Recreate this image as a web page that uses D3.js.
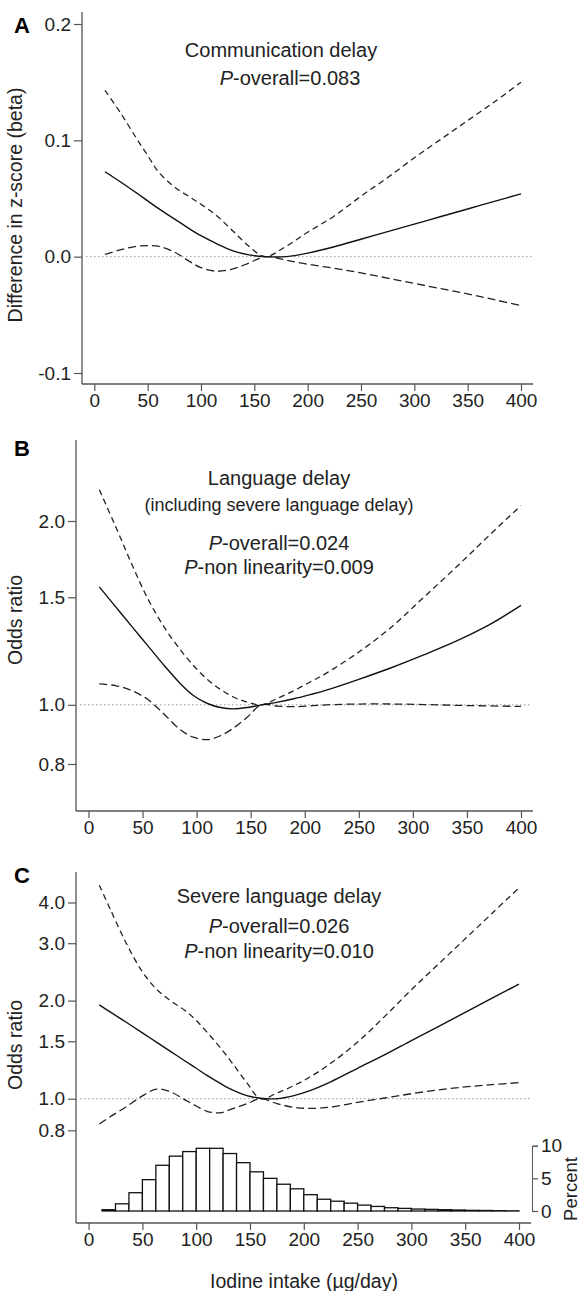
<!DOCTYPE html>
<html>
<head>
<meta charset="utf-8">
<script src="https://cdn.jsdelivr.net/npm/d3@7/dist/d3.min.js"></script>
<style>
  body { margin: 0; background: #fff; }
  svg { font-family: "Liberation Sans", Arial, sans-serif; }
  .tick text { font-size: 19px; fill: #222; }
  .tick line { stroke: #555; stroke-width: 1.2; }
</style>
</head>
<body>
<div id="chart"></div>
<script>
const width = 588;
const height = 1291;

const xTicks = [0, 50, 100, 150, 200, 250, 300, 350, 400];

// Panel A: communication delay (beta)
const commX    = [10, 25, 40, 50, 60, 75, 90, 100, 115, 130, 145, 160, 180, 200, 225, 250, 275, 300, 325, 350, 375, 400];
const commFit  = [0.073, 0.064, 0.0545, 0.048, 0.0415, 0.0325, 0.0235, 0.018, 0.011, 0.005, 0.0015, 0, 0, 0.003, 0.0085, 0.015, 0.0215, 0.028, 0.0345, 0.041, 0.0475, 0.054];
const commHigh = [0.143, 0.123, 0.101, 0.087, 0.073, 0.060, 0.051, 0.045, 0.035, 0.022, 0.009, 0, 0.009, 0.021, 0.035, 0.052, 0.068, 0.085, 0.101, 0.117, 0.133, 0.150];
const commLow  = [0.002, 0.006, 0.009, 0.0095, 0.009, 0.004, -0.0045, -0.0095, -0.0125, -0.0105, -0.0055, 0, -0.003, -0.0065, -0.010, -0.014, -0.0185, -0.023, -0.0275, -0.032, -0.037, -0.042];
const commTicks = [-0.1, 0.0, 0.1, 0.2];

// Panel B: language delay (odds ratio)
const langX    = [10, 25, 40, 55, 70, 85, 97, 110, 122, 134, 147, 160, 175, 190, 205, 220, 250, 280, 310, 340, 370, 400];
const langFit  = [1.56, 1.448, 1.344, 1.249, 1.16, 1.083, 1.036, 1.005, 0.99, 0.985, 0.99, 1.0, 1.01, 1.023, 1.039, 1.057, 1.101, 1.150, 1.207, 1.271, 1.35, 1.455];
const langHigh = [2.25, 1.96, 1.70, 1.49, 1.34, 1.23, 1.16, 1.10, 1.06, 1.03, 1.01, 1.0, 1.025, 1.055, 1.09, 1.127, 1.22, 1.34, 1.50, 1.68, 1.89, 2.12];
const langLow  = [1.082, 1.075, 1.055, 1.02, 0.965, 0.91, 0.885, 0.877, 0.89, 0.916, 0.955, 1.0, 0.995, 0.993, 0.996, 1.0, 1.003, 1.003, 1.001, 0.998, 0.996, 0.994];
const langTicks = [0.8, 1.0, 1.5, 2.0];

// Panel C: severe language delay (odds ratio)
const sevX    = [10, 20, 35, 50, 63, 76, 90, 100, 110, 122, 134, 147, 160, 175, 190, 205, 225, 250, 275, 300, 325, 350, 375, 400];
const sevFit  = [1.94, 1.846, 1.716, 1.592, 1.492, 1.398, 1.303, 1.24, 1.179, 1.116, 1.062, 1.022, 1.003, 1.0, 1.02, 1.057, 1.127, 1.24, 1.363, 1.507, 1.665, 1.84, 2.034, 2.248];
const sevHigh = [4.52, 3.82, 3.0, 2.45, 2.17, 2.0, 1.86, 1.74, 1.6, 1.44, 1.28, 1.12, 1.0, 1.041, 1.094, 1.162, 1.284, 1.492, 1.786, 2.16, 2.586, 3.096, 3.706, 4.437];
const sevLow  = [0.836, 0.88, 0.945, 1.02, 1.07, 1.05, 0.99, 0.95, 0.915, 0.905, 0.932, 0.965, 1.0, 0.966, 0.942, 0.934, 0.942, 0.975, 1.005, 1.036, 1.064, 1.087, 1.105, 1.12];
const sevTicks = [0.8, 1.0, 1.5, 2.0, 3.0, 4.0];

// Histogram of iodine intake, bins of 12.5 from 0 to 400 (percent)
const binWidth = 12.5;
const histPercent = [0, 0.2, 1.1, 2.8, 4.8, 7.0, 8.4, 9.1, 9.6, 9.6, 8.8, 7.4, 6.0, 5.0, 4.1, 3.4,
                     2.5, 1.8, 1.5, 1.2, 0.9, 0.7, 0.5, 0.4, 0.3, 0.25, 0.2, 0.15, 0.1, 0.08, 0.05, 0.03];
const histTicks = [0, 5, 10];

const svg = d3.select('#chart')
  .append('svg')
  .attr('width', width)
  .attr('height', height);

function toPoints(xs, ys) {
  return xs.map((x, i) => [x, ys[i]]);
}

// tick labels use a plain hyphen for negatives, as in the original
const oneDecimal = d => d.toFixed(1);

function drawPanel(p) {
  const g = svg.append('g');
  const xscale = d3.scaleLinear().domain([0, 400]).range(p.xRange);
  const yscale = p.yScale;

  // axis lines, drawn past the tick range like the original
  g.append('line')
    .attr('x1', p.axisX).attr('x2', p.axisX)
    .attr('y1', p.axisTop).attr('y2', p.axisY)
    .attr('stroke', '#555').attr('stroke-width', 1.3);
  g.append('line')
    .attr('x1', p.axisX).attr('x2', p.axisRight)
    .attr('y1', p.axisY).attr('y2', p.axisY)
    .attr('stroke', '#555').attr('stroke-width', 1.3);

  // x axis
  const xaxis = d3.axisBottom(xscale).tickValues(xTicks).tickSize(7).tickPadding(3).tickSizeOuter(0);
  g.append('g')
    .attr('transform', 'translate(0,' + p.axisY + ')')
    .call(xaxis)
    .call(a => a.select('.domain').remove());

  // y axis
  const yaxis = d3.axisLeft(yscale).tickValues(p.yTicks).tickFormat(oneDecimal).tickSize(8).tickPadding(3);
  g.append('g')
    .attr('transform', 'translate(' + p.axisX + ',0)')
    .call(yaxis)
    .call(a => a.select('.domain').remove());

  // reference line
  g.append('line')
    .attr('x1', p.axisX + 4).attr('x2', p.axisRight - 1)
    .attr('y1', yscale(p.ref)).attr('y2', yscale(p.ref))
    .attr('stroke', '#999').attr('stroke-width', 1)
    .attr('stroke-dasharray', '1.5,2.5');

  const line = d3.line()
    .x(d => xscale(d[0]))
    .y(d => yscale(d[1]))
    .curve(d3.curveCatmullRom.alpha(0.5));

  // confidence limits (the flatter lower one shows longer dashes in the original)
  g.append('path')
    .datum(toPoints(p.xs, p.high))
    .attr('d', line)
    .attr('fill', 'none').attr('stroke', '#222').attr('stroke-width', 1.3)
    .attr('stroke-dasharray', '6,4');
  g.append('path')
    .datum(toPoints(p.xs, p.low))
    .attr('d', line)
    .attr('fill', 'none').attr('stroke', '#222').attr('stroke-width', 1.3)
    .attr('stroke-dasharray', '8,4');
  g.append('path')
    .datum(toPoints(p.xs, p.fit))
    .attr('d', line)
    .attr('fill', 'none').attr('stroke', '#111').attr('stroke-width', 1.4);

  // panel letter
  g.append('text')
    .attr('x', 14).attr('y', p.letterY)
    .attr('font-size', 22).attr('font-weight', 'bold')
    .text(p.letter);

  // y axis title
  g.append('text')
    .attr('transform', 'translate(' + p.ylabelX + ',' + p.ylabelY + ') rotate(-90)')
    .attr('text-anchor', 'middle')
    .attr('font-size', 19.5).attr('fill', '#222')
    .text(p.ylabel);

  // annotation lines
  p.notes.forEach(n => {
    const t = g.append('text')
      .attr('x', n.x || 279).attr('y', n.y)
      .attr('text-anchor', 'middle')
      .attr('font-size', n.size || 20).attr('fill', '#222');
    if (n.italicP) {
      t.append('tspan').attr('font-style', 'italic').text('P');
      t.append('tspan').text(n.text);
    } else {
      t.text(n.text);
    }
  });

  return {g, xscale};
}

drawPanel({
  letter: 'A', letterY: 33,
  xRange: [94.3, 521], axisX: 82, axisTop: 12, axisY: 384, axisRight: 533,
  yScale: d3.scaleLinear().domain([-0.1, 0.2]).range([373, 24]),
  yTicks: commTicks, ref: 0,
  xs: commX, fit: commFit, high: commHigh, low: commLow,
  ylabel: 'Difference in z-score (beta)', ylabelX: 22, ylabelY: 205,
  notes: [
    {y: 57, x: 281, text: 'Communication delay'},
    {y: 85, x: 290, text: '-overall=0.083', italicP: true}
  ]
});

drawPanel({
  letter: 'B', letterY: 456,
  xRange: [88.5, 521], axisX: 76, axisTop: 440, axisY: 811, axisRight: 533,
  yScale: d3.scaleLog().domain([0.8, 2.0]).range([764, 521]),
  yTicks: langTicks, ref: 1,
  xs: langX, fit: langFit, high: langHigh, low: langLow,
  ylabel: 'Odds ratio', ylabelX: 22, ylabelY: 620,
  notes: [
    {y: 485, text: 'Language delay'},
    {y: 511, text: '(including severe language delay)', size: 18},
    {y: 550, text: '-overall=0.024', italicP: true},
    {y: 574, text: '-non linearity=0.009', italicP: true}
  ]
});

const panelC = drawPanel({
  letter: 'C', letterY: 883,
  xRange: [88.6, 519], axisX: 76, axisTop: 872, axisY: 1223, axisRight: 531,
  yScale: d3.scaleLog().domain([0.8, 4.0]).range([1130.3, 902.5]),
  yTicks: sevTicks, ref: 1,
  xs: sevX, fit: sevFit, high: sevHigh, low: sevLow,
  ylabel: 'Odds ratio', ylabelX: 22, ylabelY: 1045,
  notes: [
    {y: 903, text: 'Severe language delay'},
    {y: 933, text: '-overall=0.026', italicP: true},
    {y: 958, text: '-non linearity=0.010', italicP: true}
  ]
});

// Histogram in panel C with its own percent axis on the right
const hy = d3.scaleLinear().domain([0, 10]).range([1211, 1145.7]);
const hx = panelC.xscale;

panelC.g.selectAll('.hist-bar')
  .data(histPercent)
  .enter()
  .append('rect')
  .attr('class', 'hist-bar')
  .attr('x', (d, i) => hx(i * binWidth))
  .attr('y', d => hy(d))
  .attr('width', (d, i) => hx((i + 1) * binWidth) - hx(i * binWidth))
  .attr('height', d => hy(0) - hy(d))
  .attr('fill', '#fff')
  .attr('stroke', '#111')
  .attr('stroke-width', 1.3);

const haxis = d3.axisRight(hy).tickValues(histTicks).tickSize(6).tickPadding(3).tickSizeOuter(6);
panelC.g.append('g')
  .attr('transform', 'translate(532,0)')
  .call(haxis)
  .call(a => a.select('.domain').attr('stroke', '#555'));

panelC.g.append('text')
  .attr('transform', 'translate(577,1189) rotate(-90)')
  .attr('text-anchor', 'middle')
  .attr('font-size', 18.5).attr('fill', '#222')
  .text('Percent');

svg.append('text')
  .attr('x', 304).attr('y', 1288)
  .attr('text-anchor', 'middle')
  .attr('font-size', 19.5).attr('fill', '#222')
  .text('Iodine intake (µg/day)');
</script>
</body>
</html>
